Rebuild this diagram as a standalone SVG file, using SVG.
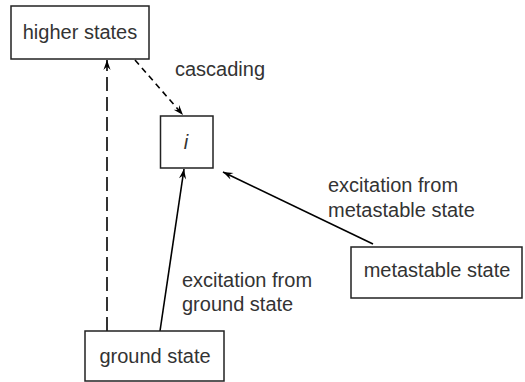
<svg xmlns="http://www.w3.org/2000/svg" width="525" height="382" viewBox="0 0 525 382">
<style>
.box{fill:#fff;stroke:#222;stroke-width:1.5}
.lbl{font-family:"Liberation Sans",Arial,sans-serif;font-size:20px;fill:#333}
.c{text-anchor:middle}
.ln{fill:none;stroke:#000;stroke-width:1.6}
</style>
<defs>
<marker id="ah" markerUnits="userSpaceOnUse" markerWidth="14" markerHeight="10" viewBox="-11 -5 12 10" refX="0" refY="0" orient="auto">
<path d="M0,0 L-10,-3.6 L-6.5,0 L-10,3.6 z" fill="#000"/>
</marker>
</defs>
<g id="connectors">
<line class="ln" x1="107" y1="331" x2="107" y2="60" stroke-dasharray="14,6" marker-end="url(#ah)"/>
<line class="ln" x1="135" y1="60" x2="183" y2="115" stroke-dasharray="6,4.5" marker-end="url(#ah)"/>
<line class="ln" x1="160" y1="331" x2="184" y2="169" marker-end="url(#ah)"/>
<line class="ln" x1="373" y1="244" x2="223" y2="172" marker-end="url(#ah)"/>
<text class="lbl" x="175" y="76">cascading</text>
<text class="lbl" x="328" y="192">excitation from</text>
<text class="lbl" x="328" y="217">metastable state</text>
<text class="lbl" x="182" y="287">excitation from</text>
<text class="lbl" x="182" y="311">ground state</text>
</g>
<g id="higher">
<rect class="box" x="11" y="6" width="138" height="53"/>
<text class="lbl c" x="80" y="39">higher states</text>
</g>
<g id="i">
<rect class="box" x="160.5" y="116" width="52.5" height="52"/>
<text class="lbl c" x="186" y="149" font-style="italic">i</text>
</g>
<g id="ground">
<rect class="box" x="85" y="331" width="139" height="50"/>
<text class="lbl c" x="155" y="363">ground state</text>
</g>
<g id="metastable">
<rect class="box" x="351" y="247" width="171" height="51"/>
<text class="lbl c" x="437" y="277">metastable state</text>
</g>
</svg>
